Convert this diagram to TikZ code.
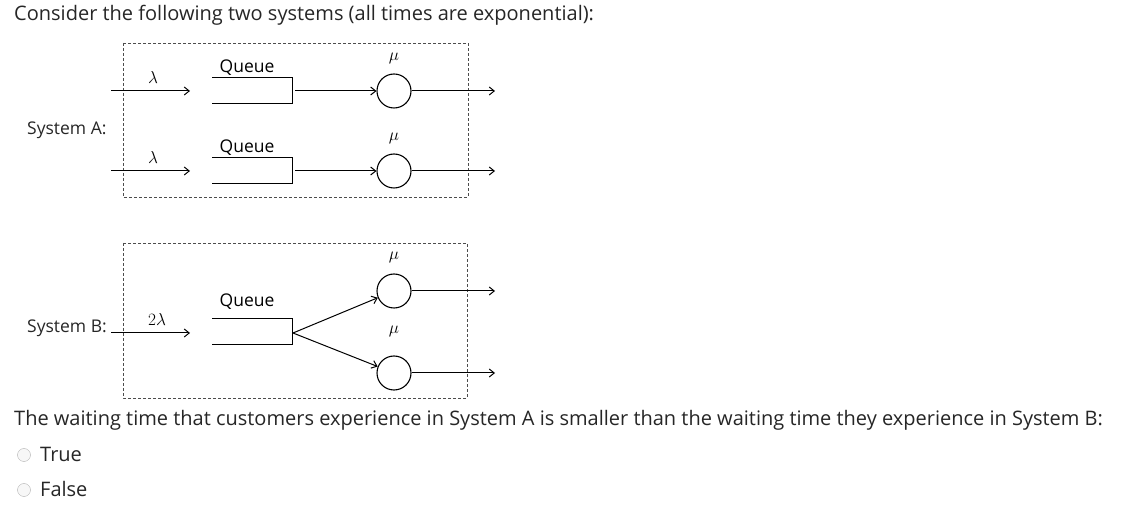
\documentclass[tikz,border=0pt]{standalone}
\usepackage{fontspec}
\setmainfont{Open Sans}
\usetikzlibrary{arrows.meta}
\begin{document}
\begin{tikzpicture}[x=1pt,y=-1pt,
  frame/.style={draw=black!70,densely dashed,line width=0.6pt},
  flow/.style={draw,line width=1pt,-{Straight Barb[length=5pt,width=8pt]}},
  srv/.style={draw,circle,line width=1.1pt,minimum size=34pt,inner sep=0pt},
  lbl/.style={font=\fontsize{17}{20}\selectfont,inner sep=0pt},
  qlbl/.style={font=\fontsize{17.5}{20}\selectfont,inner sep=0pt},
  txt/.style={font=\fontsize{20}{24}\selectfont,anchor=west,inner sep=0pt,text=black!85},
  stxt/.style={font=\fontsize{17.5}{20}\selectfont,anchor=west,inner sep=0pt,text=black!85},
  radio/.style={draw=black!30,circle,fill=black!3,minimum size=13pt,inner sep=0pt}]
\useasboundingbox (0,0) rectangle (1136,518);
\node[txt] (title) at (14,15) {Consider the following two systems (all times are exponential):};
% System A
\draw[frame] (123,43) rectangle (468,197);
\node[stxt] (sa) at (27,130) {System A:};
\foreach \y/\n in {91/1,171/2}{
  \coordinate (in\n) at (111,\y);
  \coordinate (ie\n) at (190,\y);
  \draw[flow] (in\n) -- (ie\n);
  \node[lbl] (lam\n) at (153,\y-13) {$\lambda$};
  \draw[line width=1pt] (212,\y-13) -- (292,\y-13) -- (292,\y+13) -- (212,\y+13);
  \coordinate (q\n) at (292,\y);
  \node[qlbl] (ql\n) at (247,\y-23) {Queue};
  \node[srv] (s\n) at (394,\y) {};
  \node[lbl] (mu\n) at (394,\y-33) {$\mu$};
  \coordinate (o\n) at (495,\y);
  \draw[flow] ([xshift=3pt]q\n) -- (s\n.west);
  \draw[flow] (s\n.east) -- (o\n);
}
% System B
\draw[frame] (123,243) rectangle (467,398);
\node[stxt] (sb) at (27,328) {System B:};
\coordinate (bs) at (111,333);
\coordinate (bi) at (190,333);
\draw[flow] (bs) -- (bi);
\node[lbl] (lamb) at (157,320) {$2\lambda$};
\draw[line width=1pt] (212,319) -- (292,319) -- (292,345) -- (212,345);
\coordinate (qb) at (293,333);
\node[qlbl] (qlb) at (247,302) {Queue};
\node[srv] (b1) at (394,291) {};
\node[srv] (b2) at (394,373) {};
\node[lbl] (mub1) at (394,257) {$\mu$};
\node[lbl] (mub2) at (394,331) {$\mu$};
\draw[flow] (qb) -- (b1);
\draw[flow] (qb) -- (b2);
\coordinate (ob1) at (495,291);
\coordinate (ob2) at (495,373);
\draw[flow] (b1.east) -- (ob1);
\draw[flow] (b2.east) -- (ob2);
% question
\node[txt] (q) at (14,420) {The waiting time that customers experience in System A is smaller than the waiting time they experience in System B:};
\node[radio] (r1) at (24,455) {};
\node[radio] (r2) at (24,490) {};
\node[txt] (t) at (40,454) {True};
\node[txt] (f) at (40,489) {False};
\end{tikzpicture}
\end{document}
